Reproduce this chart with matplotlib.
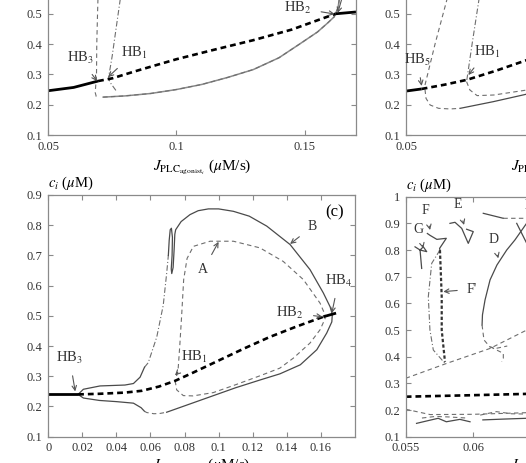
import matplotlib
matplotlib.use("Agg")
import matplotlib.pyplot as plt
import numpy as np

plt.rcParams['font.family'] = ['Liberation Serif', 'DejaVu Serif']
plt.rcParams['mathtext.fontset'] = 'stix'

# ---- panel (a) ----
a_ss1_x = [0.05, 0.06, 0.0695]
a_ss1_y = [0.246, 0.257, 0.278]
a_ssd_x = [0.0695, 0.075, 0.085, 0.1, 0.115, 0.13, 0.145, 0.162]
a_ssd_y = [0.278, 0.287, 0.313, 0.35, 0.382, 0.413, 0.448, 0.50]
a_ss2_x = [0.162, 0.17]
a_ss2_y = [0.50, 0.506]
a_po_x = [0.0715, 0.08, 0.09, 0.1, 0.11, 0.12, 0.13, 0.14, 0.148, 0.155, 0.159, 0.1615, 0.163, 0.1637, 0.164]
a_po_y = [0.225, 0.229, 0.237, 0.25, 0.267, 0.29, 0.316, 0.355, 0.40, 0.44, 0.47, 0.49, 0.52, 0.56, 0.62]
a_hb3_x = [0.0697, 0.0693, 0.0690, 0.0689, 0.0684, 0.0688, 0.0697]
a_hb3_y = [0.62, 0.5, 0.4, 0.3, 0.24, 0.227, 0.224]
a_hb1_x = [0.0795, 0.0781, 0.0765, 0.0750, 0.0738, 0.0736, 0.0745, 0.0768]
a_hb1_y = [0.62, 0.545, 0.45, 0.36, 0.30, 0.285, 0.27, 0.243]

# ---- panel (b) ----
b_ss1_x = [0.05, 0.0561]
b_ss1_y = [0.245, 0.252]
b_ssd_x = [0.0561, 0.065, 0.0737, 0.085, 0.097, 0.11, 0.13, 0.15, 0.17]
b_ssd_y = [0.252, 0.266, 0.282, 0.312, 0.347, 0.38, 0.42, 0.46, 0.50]
b_hb5_up_x = [0.0574, 0.0614, 0.0659, 0.070]
b_hb5_up_y = [0.265, 0.403, 0.5455, 0.68]
b_hb5_lo_x = [0.0574, 0.0578, 0.0594, 0.0627, 0.0672, 0.0711]
b_hb5_lo_y = [0.250, 0.221, 0.199, 0.188, 0.186, 0.188]
b_po_x = [0.0711, 0.084, 0.0971, 0.11]
b_po_y = [0.188, 0.21, 0.235, 0.258]
b_hb1_up_x = [0.0737, 0.0758, 0.0784, 0.080]
b_hb1_up_y = [0.2815, 0.403, 0.5455, 0.62]
b_hb1_lo_x = [0.0736, 0.0749, 0.0777, 0.0842, 0.0971, 0.11]
b_hb1_lo_y = [0.276, 0.2485, 0.23, 0.232, 0.2485, 0.27]

# ---- panel (c) ----
c_ss1_x = [0.0, 0.0175]
c_ss1_y = [0.240, 0.240]
c_ssd_x = [0.0175, 0.03, 0.045, 0.055, 0.065, 0.0745, 0.085, 0.1, 0.115, 0.13, 0.145, 0.1615]
c_ssd_y = [0.240, 0.242, 0.246, 0.252, 0.266, 0.285, 0.312, 0.352, 0.392, 0.43, 0.463, 0.497]
c_ss2_x = [0.1615, 0.169]
c_ss2_y = [0.497, 0.509]
cB_up_x = [0.0175, 0.0206, 0.0304, 0.045, 0.05, 0.0539, 0.0565]
cB_up_y = [0.240, 0.257, 0.268, 0.271, 0.276, 0.297, 0.33]
cB_dd_x = [0.0565, 0.0587, 0.0637, 0.0675, 0.0695, 0.0705]
cB_dd_y = [0.33, 0.345, 0.43, 0.535, 0.64, 0.70]
cB_x = [0.0705, 0.0710, 0.0716, 0.0723, 0.0729, 0.0727, 0.0722, 0.0725, 0.0733, 0.0739,
        0.0743, 0.0748, 0.078, 0.0832, 0.088, 0.094, 0.1, 0.1087, 0.118, 0.1283, 0.142,
        0.1537, 0.1615, 0.1655, 0.1668, 0.1665, 0.1635, 0.1577, 0.148, 0.136, 0.1245,
        0.11, 0.09, 0.0695]
cB_y = [0.70, 0.75, 0.785, 0.79, 0.76, 0.70, 0.655, 0.64, 0.66, 0.72,
        0.77, 0.785, 0.812, 0.835, 0.848, 0.854, 0.854, 0.846, 0.83, 0.797, 0.736,
        0.653, 0.576, 0.53, 0.505, 0.48, 0.443, 0.388, 0.338, 0.308, 0.288,
        0.262, 0.222, 0.181]
cB_lo_x = [0.0175, 0.0206, 0.03, 0.0402, 0.05, 0.0545, 0.0565]
cB_lo_y = [0.240, 0.228, 0.220, 0.216, 0.211, 0.196, 0.184]
cB_lod_x = [0.0565, 0.0578, 0.062, 0.0656, 0.0695]
cB_lod_y = [0.184, 0.180, 0.176, 0.177, 0.181]
cA_x = [0.0745, 0.0754, 0.0793, 0.085, 0.0969, 0.11, 0.1245, 0.136, 0.1439, 0.1537,
        0.1596, 0.1625, 0.1625, 0.1596, 0.1498, 0.138, 0.1243, 0.1087, 0.095, 0.0852,
        0.0815, 0.0795, 0.0783, 0.0772, 0.0762, 0.0748]
cA_y = [0.285, 0.255, 0.236, 0.235, 0.246, 0.272, 0.302, 0.327, 0.36, 0.41,
        0.454, 0.49, 0.504, 0.542, 0.62, 0.68, 0.725, 0.747, 0.747, 0.73,
        0.69, 0.62, 0.5, 0.4, 0.32, 0.29]

# ---- panel (d) ----
d_ss_x = [0.055, 0.06, 0.0639, 0.0775]
d_ss_y = [0.25, 0.2557, 0.2605, 0.276]
d_long_x = [0.055, 0.05803, 0.06123, 0.06394, 0.068]
d_long_y = [0.319, 0.375, 0.431, 0.50, 0.60]
d_low_x = [0.055, 0.0568, 0.06, 0.0639, 0.068]
d_low_y = [0.203, 0.183, 0.184, 0.19, 0.19]
d_sq1_x = [0.0558, 0.0568, 0.0574, 0.0580, 0.0590, 0.05975]
d_sq1_y = [0.150, 0.162, 0.169, 0.156, 0.165, 0.156]
d_sq2_x = [0.0562, 0.0572, 0.0582, 0.0595]
d_sq2_y = [0.170, 0.176, 0.174, 0.170]
d_sq3_x = [0.0605, 0.0617, 0.0628, 0.0639, 0.065]
d_sq3_y = [0.181, 0.194, 0.186, 0.185, 0.19]
d_sq4_x = [0.0607, 0.0622, 0.0639, 0.065]
d_sq4_y = [0.163, 0.166, 0.169, 0.167]
dF_x = [0.05753, 0.05692, 0.05667, 0.05679, 0.05704, 0.0579]
dF_y = [0.80, 0.75, 0.625, 0.50, 0.425, 0.375]
dFp_x = [0.05753, 0.05766, 0.05766, 0.0579]
dFp_y = [0.80, 0.625, 0.50, 0.381]
dFt_x = [0.0566, 0.0568, 0.0573, 0.0580, 0.0575, 0.05753]
dFt_y = [0.862, 0.855, 0.84, 0.844, 0.806, 0.80]
dG_x = [0.05569, 0.05606, 0.0563, 0.05655, 0.05606, 0.05618]
dG_y = [0.812, 0.80, 0.812, 0.794, 0.80, 0.731]
dE_x = [0.05827, 0.05864, 0.05914, 0.05962, 0.05999, 0.0595]
dE_y = [0.90, 0.904, 0.881, 0.825, 0.869, 0.878]
dD_x = [0.06455, 0.06394, 0.06307, 0.06246, 0.06174, 0.06123, 0.06086, 0.06067, 0.06064]
dD_y = [0.969, 0.901, 0.838, 0.80, 0.744, 0.688, 0.613, 0.557, 0.519]
dDd_x = [0.06064, 0.06078, 0.06123, 0.06174, 0.0625]
dDd_y = [0.519, 0.463, 0.436, 0.432, 0.44]
dHook_x = [0.06123, 0.06221, 0.06221, 0.06209]
dHook_y = [0.4375, 0.4126, 0.394, 0.381]
dTop_x = [0.06073, 0.06221]
dTop_y = [0.9377, 0.919]
dTopd_x = [0.06221, 0.06394, 0.065]
dTopd_y = [0.919, 0.919, 0.92]
dX_x = [0.0632, 0.06394, 0.0645]
dX_y = [0.90, 0.825, 0.78]

W, H = 526, 463
fig = plt.figure(figsize=(W / 100, H / 100), dpi=100)

def px_axes(left, bottom, width, height):
    return fig.add_axes([left / W, 1 - bottom / H, width / W, height / H])

ax_a = px_axes(48, 135, 308, 242.4)
ax_b = px_axes(406, 135, 308, 242.4)
ax_c = px_axes(48.3, 436.7, 306.5, 241.7)
ax_d = px_axes(405.7, 436.7, 308, 240)

GRAY = '#6e6e6e'
DGRAY = '#4a4a4a'
thin_dash = dict(color=GRAY, lw=0.8, ls=(0, (4, 3)))
thin_dd = dict(color=GRAY, lw=0.8, ls=(0, (5, 2, 1, 2)))
thin_solid = dict(color=DGRAY, lw=0.9)
thick_solid = dict(color='black', lw=2.0, solid_capstyle='butt')
thick_dash = dict(color='black', lw=1.9, ls=(0, (2.2, 1.5)))

def style(ax):
    for s in ax.spines.values():
        s.set_color('#8a8a8a')
        s.set_linewidth(0.9)
    ax.tick_params(direction='in', length=3.5, width=0.8, color='#8a8a8a',
                   top=True, right=True, labelsize=9, labelcolor='#333333', pad=4)

def hb(ax, label, xy, xytext, size=10.5):
    ax.annotate(label, xy=xy, xytext=xytext, fontsize=size, color='#333333',
                ha='center', va='center', annotation_clip=False,
                arrowprops=dict(arrowstyle='->', color='#555555', lw=0.8,
                                shrinkA=5 if label else 0, shrinkB=0, mutation_scale=8))

xlabel = r'$J_{\mathrm{PLC}_{\mathrm{agonist}_i}}$ ($\mu$M/s)'
ylabel = r'$c_i$ ($\mu$M)'
low_ticks = [0.1, 0.2, 0.3, 0.4, 0.5]
low_labels = ['0.1', '0.2', '0.3', '0.4', '0.5']

# panel (a)
ax = ax_a
ax.plot(a_po_x, a_po_y, color='#8a8a8a', lw=1.1)
ax.plot(a_po_x, a_po_y, **thin_dash)
ax.plot(a_hb3_x, a_hb3_y, **thin_dash)
ax.plot(a_hb1_x, a_hb1_y, **thin_dd)
ax.plot(a_ss1_x, a_ss1_y, **thick_solid)
ax.plot(a_ssd_x, a_ssd_y, **thick_dash)
ax.plot(a_ss2_x, a_ss2_y, **thick_solid)
ax.set_xlim(0.05, 0.17)
ax.set_ylim(0.1, 0.9)
ax.set_xticks([0.05, 0.1, 0.15], ['0.05', '0.1', '0.15'])
ax.set_yticks(low_ticks, low_labels)
hb(ax, 'HB$_3$', (0.0691, 0.278), (0.0625, 0.354))
hb(ax, 'HB$_1$', (0.0734, 0.291), (0.0835, 0.371))
hb(ax, 'HB$_2$', (0.1617, 0.4993), (0.1473, 0.519))
hb(ax, '', (0.1629, 0.503), (0.1655, 0.58))
ax.set_xlabel(xlabel, fontsize=11, labelpad=4)
style(ax)

# panel (b)
ax = ax_b
ax.plot(b_po_x, b_po_y, color=DGRAY, lw=0.9)
ax.plot(b_hb5_up_x, b_hb5_up_y, **thin_dash)
ax.plot(b_hb5_lo_x, b_hb5_lo_y, **thin_dash)
ax.plot(b_hb1_up_x, b_hb1_up_y, **thin_dd)
ax.plot(b_hb1_lo_x, b_hb1_lo_y, **thin_dash)
ax.plot(b_ss1_x, b_ss1_y, **thick_solid)
ax.plot(b_ssd_x, b_ssd_y, **thick_dash)
ax.set_xlim(0.05, 0.17)
ax.set_ylim(0.1, 0.9)
ax.set_xticks([0.05], ['0.05'])
ax.set_yticks(low_ticks, low_labels)
hb(ax, 'HB$_5$', (0.0561, 0.262), (0.0544, 0.3475))
hb(ax, 'HB$_1$', (0.0743, 0.298), (0.0815, 0.375))
ax.set_xlabel(xlabel, fontsize=11, labelpad=4)
style(ax)

# panel (c)
ax = ax_c
ax.plot(cA_x, cA_y, **thin_dash)
ax.plot(cB_dd_x, cB_dd_y, **thin_dd)
ax.plot(cB_x, cB_y, **thin_solid)
ax.plot(cB_up_x, cB_up_y, **thin_solid)
ax.plot(cB_lo_x, cB_lo_y, **thin_solid)
ax.plot(cB_lod_x, cB_lod_y, **thin_dash)
ax.plot(c_ss1_x, c_ss1_y, **thick_solid)
ax.plot(c_ssd_x, c_ssd_y, **thick_dash)
ax.plot(c_ss2_x, c_ss2_y, **thick_solid)
ax.set_xlim(0, 0.18)
ax.set_ylim(0.1, 0.9)
ax.set_xticks(np.arange(0, 0.161, 0.02), ['0', '0.02', '0.04', '0.06', '0.08', '0.1', '0.12', '0.14', '0.16'])
ax.set_yticks(np.arange(0.1, 0.95, 0.1), ['0.1', '0.2', '0.3', '0.4', '0.5', '0.6', '0.7', '0.8', '0.9'])
hb(ax, 'HB$_3$', (0.0158, 0.25), (0.0125, 0.36))
hb(ax, 'HB$_1$', (0.0744, 0.303), (0.0855, 0.364))
hb(ax, 'HB$_2$', (0.161, 0.497), (0.142, 0.51))
hb(ax, 'HB$_4$', (0.1665, 0.509), (0.1705, 0.616))
hb(ax, 'A', (0.1, 0.745), (0.091, 0.652), size=10)
hb(ax, 'B', (0.142, 0.738), (0.155, 0.795), size=10)
ax.text(0.935, 0.93, '(c)', transform=ax.transAxes, fontsize=12, ha='center', va='center')
ax.text(0.0, 1.012, ylabel, transform=ax.transAxes, fontsize=10.5, ha='left', va='bottom')
ax.set_xlabel(xlabel, fontsize=11, labelpad=2)
style(ax)

# panel (d)
ax = ax_d
ax.plot(d_long_x, d_long_y, **thin_dash)
ax.plot(d_low_x, d_low_y, **thin_dash)
ax.plot(d_sq1_x, d_sq1_y, **thin_solid)
ax.plot(d_sq2_x, d_sq2_y, **thin_dash)
ax.plot(d_sq3_x, d_sq3_y, **thin_dash)
ax.plot(d_sq4_x, d_sq4_y, **thin_solid)
ax.plot(dF_x, dF_y, **thin_dd)
ax.plot(dFp_x, dFp_y, color='#333333', lw=1.6, ls=(0, (1.5, 1)))
ax.plot(dFt_x, dFt_y, **thin_solid)
ax.plot(dG_x, dG_y, **thin_solid)
ax.plot(dE_x, dE_y, **thin_solid)
ax.plot(dD_x, dD_y, **thin_solid)
ax.plot(dDd_x, dDd_y, **thin_dash)
ax.plot(dHook_x, dHook_y, **thin_dash)
ax.plot(dTop_x, dTop_y, **thin_solid)
ax.plot(dTopd_x, dTopd_y, **thin_dash)
ax.plot(dX_x, dX_y, **thin_solid)
ax.plot(d_ss_x, d_ss_y, **thick_dash)
ax.set_xlim(0.055, 0.055 + 308 / 13540)
ax.set_ylim(0.1, 1.0)
ax.set_xticks([0.055, 0.06], ['0.055', '0.06'])
ax.set_yticks(np.arange(0.1, 1.05, 0.1), ['0.1', '0.2', '0.3', '0.4', '0.5', '0.6', '0.7', '0.8', '0.9', '1'])
hb(ax, 'G', (0.0563, 0.806), (0.05593, 0.8775), size=10)
hb(ax, 'F', (0.0568, 0.875), (0.05648, 0.95), size=10)
hb(ax, 'E', (0.05931, 0.894), (0.05888, 0.969), size=10)
hb(ax, 'D', (0.06184, 0.769), (0.06147, 0.84), size=10)
hb(ax, "F'", (0.05778, 0.644), (0.0599, 0.653), size=10)
ax.text(0.06375, 0.968, "D'", fontsize=10, ha='left', va='center')
ax.text(0.0, 1.012, ylabel, transform=ax.transAxes, fontsize=10.5, ha='left', va='bottom')
ax.set_xlabel(xlabel, fontsize=11, labelpad=2)
style(ax)

fig.savefig('out.png', dpi=100)
